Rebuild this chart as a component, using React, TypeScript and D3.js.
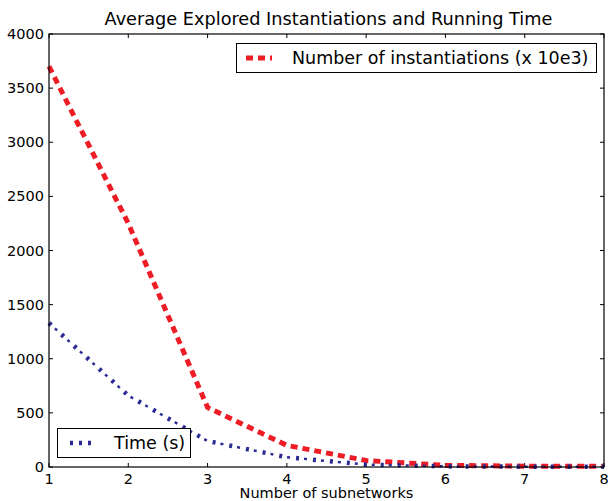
import * as d3 from 'd3';
import { useEffect, useRef } from 'react';

const subnetworks = [1, 2, 3, 4, 5, 6, 7, 8];
const instantiations = [3700, 2250, 550, 200, 60, 15, 8, 6];
const timeSec = [1330, 660, 240, 90, 22, 6, 3, 3];
const xTicks = [1, 2, 3, 4, 5, 6, 7, 8];
const yTicks = [0, 500, 1000, 1500, 2000, 2500, 3000, 3500, 4000];

const W = 608;
const H = 501;
const m = { left: 49, right: 4, top: 34, bottom: 34 };
const RED = '#ee1c25';
const BLUE = '#2b2b96';
const FONT = 'DejaVu Sans, sans-serif';

export default function App() {
  const svgRef = useRef<SVGSVGElement>(null);

  useEffect(() => {
    const svg = d3.select(svgRef.current);
    svg.selectAll('*').remove();

    const x = d3.scaleLinear().domain([1, 8]).range([m.left, W - m.right]);
    const y = d3.scaleLinear().domain([0, 4000]).range([H - m.bottom, m.top]);

    svg.append('rect').attr('width', W).attr('height', H).attr('fill', 'white');

    // ticks inside on all sides
    const tick = svg.append('g').attr('stroke', 'black').attr('stroke-width', 1);
    xTicks.forEach((t) => {
      tick.append('line').attr('x1', x(t)).attr('x2', x(t)).attr('y1', y(0)).attr('y2', y(0) - 4);
      tick.append('line').attr('x1', x(t)).attr('x2', x(t)).attr('y1', y(4000)).attr('y2', y(4000) + 4);
    });
    yTicks.forEach((t) => {
      tick.append('line').attr('x1', x(1)).attr('x2', x(1) + 4).attr('y1', y(t)).attr('y2', y(t));
      tick.append('line').attr('x1', x(8)).attr('x2', x(8) - 4).attr('y1', y(t)).attr('y2', y(t));
    });

    const line = d3.line<number>().x((_, i) => x(subnetworks[i])).y((d) => y(d));

    svg.append('path')
      .datum(instantiations)
      .attr('fill', 'none')
      .attr('stroke', RED)
      .attr('stroke-width', 5)
      .attr('stroke-dasharray', '7,5')
      .attr('d', line);

    // dash-dot: thick dots plus thin dashes
    svg.append('path')
      .datum(timeSec)
      .attr('fill', 'none')
      .attr('stroke', BLUE)
      .attr('stroke-width', 4.5)
      .attr('stroke-dasharray', '3,14')
      .attr('d', line);
    svg.append('path')
      .datum(timeSec)
      .attr('fill', 'none')
      .attr('stroke', BLUE)
      .attr('stroke-width', 2.5)
      .attr('stroke-dasharray', '0,8,3,6')
      .attr('d', line);

    // frame
    svg.append('rect')
      .attr('x', x(1)).attr('y', y(4000))
      .attr('width', x(8) - x(1)).attr('height', y(0) - y(4000))
      .attr('fill', 'none').attr('stroke', 'black').attr('stroke-width', 1.2);

    const txt = svg.append('g').attr('font-family', FONT).attr('fill', 'black');
    xTicks.forEach((t) => {
      txt.append('text').attr('x', x(t)).attr('y', y(0) + 16.5).attr('text-anchor', 'middle')
        .attr('font-size', 14.5).text(t);
    });
    yTicks.forEach((t) => {
      txt.append('text').attr('x', x(1) - 5).attr('y', y(t) + 5).attr('text-anchor', 'end')
        .attr('font-size', 14.5).text(t);
    });
    txt.append('text').attr('x', (x(1) + x(8)) / 2 + 2).attr('y', 24.5).attr('text-anchor', 'middle')
      .attr('font-size', 17.7).text('Average Explored Instantiations and Running Time');
    txt.append('text').attr('x', (x(1) + x(8)) / 2).attr('y', 498).attr('text-anchor', 'middle')
      .attr('font-size', 14.5).text('Number of subnetworks');

    // legend: instantiations
    const l1 = svg.append('g');
    l1.append('rect').attr('x', 236.5).attr('y', 43.5).attr('width', 360).attr('height', 29)
      .attr('fill', 'white').attr('stroke', 'black').attr('stroke-width', 1);
    l1.append('line').attr('x1', 246).attr('x2', 272).attr('y1', 58).attr('y2', 58)
      .attr('stroke', RED).attr('stroke-width', 5).attr('stroke-dasharray', '7,5');
    l1.append('text').attr('x', 292).attr('y', 64).attr('font-family', FONT).attr('font-size', 17.5)
      .text('Number of instantiations (x 10e3)');

    // legend: time
    const l2 = svg.append('g');
    l2.append('rect').attr('x', 57.5).attr('y', 428.5).attr('width', 133).attr('height', 29)
      .attr('fill', 'white').attr('stroke', 'black').attr('stroke-width', 1);
    l2.append('line').attr('x1', 70).attr('x2', 92).attr('y1', 443).attr('y2', 443)
      .attr('stroke', BLUE).attr('stroke-width', 4.5).attr('stroke-dasharray', '3,6');
    l2.append('text').attr('x', 114).attr('y', 449).attr('font-family', FONT).attr('font-size', 17.5)
      .text('Time (s)');
  }, []);

  return (
    <svg
      ref={svgRef}
      width={W}
      height={H}
      style={{ position: 'absolute', left: 0, top: 0 }}
    ></svg>
  );
}
